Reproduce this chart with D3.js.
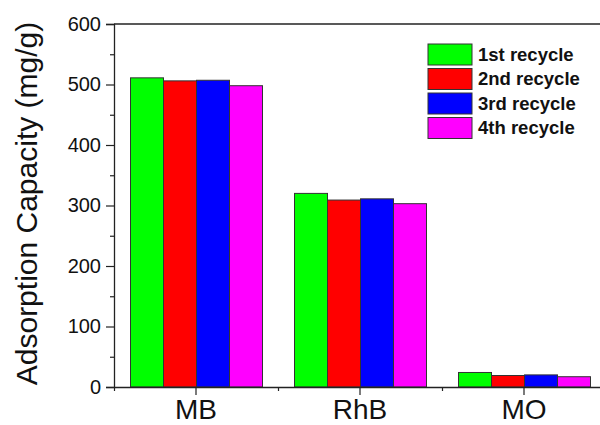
<!DOCTYPE html>
<html><head><meta charset="utf-8">
<script src="https://cdn.jsdelivr.net/npm/d3@7"></script>
<style>body{margin:0;background:#fff}svg{display:block}</style>
</head><body>
<svg id="c" width="600" height="425"></svg>
<script>
const categories = ["MB", "RhB", "MO"];
const seriesNames = ["1st recycle", "2nd recycle", "3rd recycle", "4th recycle"];
const seriesColors = ["#00ff00", "#ff0000", "#0000ff", "#ff00ff"];
const recycle1 = [511, 320, 24];
const recycle2 = [506, 309, 19];
const recycle3 = [507, 311, 20];
const recycle4 = [498, 303, 17];
const yTicks = [0, 100, 200, 300, 400, 500, 600];
const yMinorTicks = [50, 150, 250, 350, 450, 550];

const series = [recycle1, recycle2, recycle3, recycle4];
const svg = d3.select("#c");
const x0 = 114, x1 = 606, yTop = 24, yBot = 387;
const x = d3.scaleBand().domain(categories).range([x0, x1]).paddingInner(0).paddingOuter(0);
const xs = d3.scaleBand().domain(d3.range(4)).range([16, x.bandwidth() - 16]).padding(0);
const y = d3.scaleLinear().domain([0, 600]).range([yBot, yTop]);
const font = "'Liberation Sans', Arial, sans-serif";

// bars
categories.forEach((c, i) => {
  svg.append("g").selectAll("rect").data(series.map((s, k) => ({k, v: s[i]})))
    .join("rect")
    .attr("x", d => x(c) + xs(d.k) + 0.5)
    .attr("y", d => y(d.v))
    .attr("width", xs.bandwidth())
    .attr("height", d => yBot - y(d.v))
    .attr("fill", d => seriesColors[d.k])
    .attr("stroke", "#333")
    .attr("stroke-width", 1);
});

// y axis
const yAxis = svg.append("g").attr("transform", `translate(${x0},0)`)
  .call(d3.axisLeft(y).tickValues(yTicks).tickSize(8).tickPadding(5));
yAxis.select(".domain").attr("stroke", "#222").attr("stroke-width", 1.3);
yAxis.selectAll(".tick line").attr("stroke", "#222").attr("stroke-width", 1.2);
yAxis.selectAll("text").attr("font-family", font).attr("font-size", 20).attr("fill", "#111");
svg.append("g").attr("transform", `translate(${x0},0)`)
  .call(d3.axisLeft(y).tickValues(yMinorTicks).tickSize(4).tickFormat(""))
  .call(g => g.select(".domain").remove())
  .selectAll("line").attr("stroke", "#222").attr("stroke-width", 1.2);

// x axis
const xAxis = svg.append("g").attr("transform", `translate(0,${yBot})`)
  .call(d3.axisBottom(x).tickSize(8).tickSizeOuter(0).tickPadding(4));
xAxis.select(".domain").attr("stroke", "#222").attr("stroke-width", 1.3);
xAxis.selectAll(".tick line").attr("stroke", "#222").attr("stroke-width", 1.2);
xAxis.selectAll("text").attr("font-family", font).attr("font-size", 28).attr("fill", "#111");
const xMinor = d3.scaleLinear().domain([0, 3]).range([x0, x1]);
svg.append("g").attr("transform", `translate(0,${yBot})`)
  .call(d3.axisBottom(xMinor).tickValues([0, 1, 2]).tickSize(4).tickFormat(""))
  .call(g => g.select(".domain").remove())
  .selectAll("line").attr("stroke", "#222").attr("stroke-width", 1.2);

// top frame
svg.append("line").attr("x1", x0).attr("x2", 600).attr("y1", yTop).attr("y2", yTop)
  .attr("stroke", "#222").attr("stroke-width", 1.3);

// y title
svg.append("text").attr("transform", `translate(37,${(yTop + yBot) / 2 - 2}) rotate(-90)`)
  .attr("text-anchor", "middle").attr("font-family", font).attr("font-size", 30)
  .attr("fill", "#111").text("Adsorption Capacity (mg/g)");

// legend
const lg = svg.append("g").attr("transform", "translate(428,44)");
seriesNames.forEach((n, k) => {
  const g = lg.append("g").attr("transform", `translate(0,${k * 24.5})`);
  g.append("rect").attr("width", 44).attr("height", 21)
    .attr("fill", seriesColors[k]).attr("stroke", "#333").attr("stroke-width", 1);
  g.append("text").attr("x", 50).attr("y", 16.5).attr("font-family", font)
    .attr("font-weight", "bold").attr("font-size", 18.5).attr("fill", "#111").text(n);
});
</script>
</body></html>
